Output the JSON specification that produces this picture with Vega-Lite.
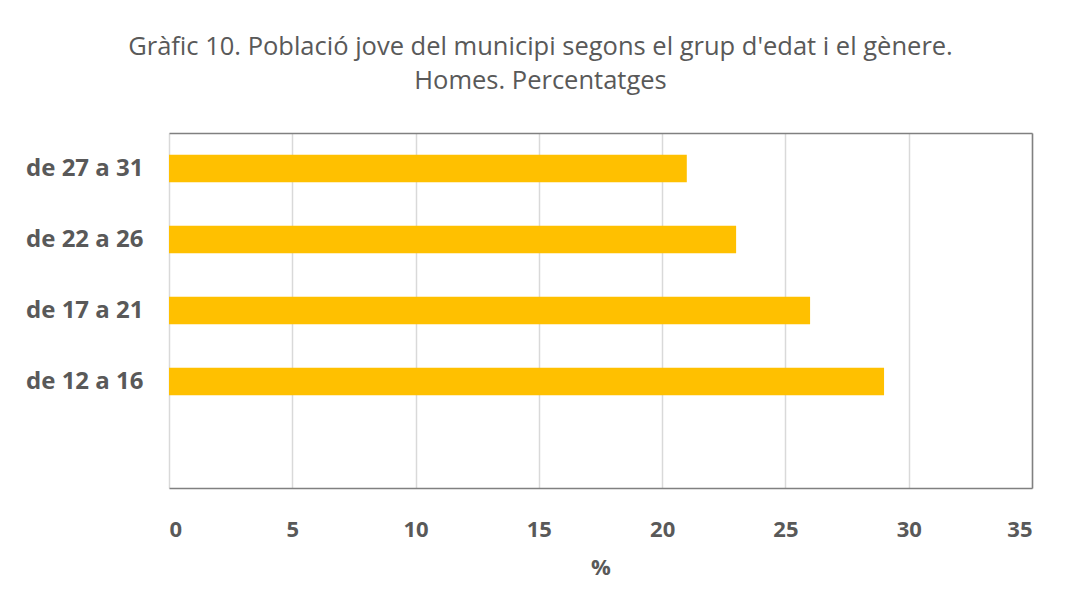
{
  "$schema": "https://vega.github.io/schema/vega-lite/v6.json",
  "width": 863,
  "height": 355,
  "autosize": "none",
  "padding": {"left": 169, "top": 133, "right": 36, "bottom": 121},
  "background": "white",
  "title": {
    "text": ["Gràfic 10. Població jove del municipi segons el grup d'edat i el gènere.", "Homes. Percentatges"],
    "anchor": "middle",
    "frame": "group",
    "dx": -60,
    "baseline": "bottom",
    "offset": 14,
    "lineHeight": 34,
    "font": "Open Sans",
    "fontSize": 25.5,
    "fontWeight": "normal",
    "color": "#595959"
  },
  "data": {
    "values": [
      {"grup": "de 27 a 31", "pct": 21},
      {"grup": "de 22 a 26", "pct": 23},
      {"grup": "de 17 a 21", "pct": 26},
      {"grup": "de 12 a 16", "pct": 29}
    ]
  },
  "encoding": {
    "y": {
      "field": "grup",
      "type": "nominal",
      "sort": null,
      "scale": {
        "domain": ["de 27 a 31", "de 22 a 26", "de 17 a 21", "de 12 a 16", ""],
        "paddingInner": 0.61,
        "paddingOuter": 0.305
      }
    },
    "x": {
      "field": "pct",
      "type": "quantitative",
      "scale": {"domain": [0, 35], "nice": false}
    }
  },
  "layer": [
    {
      "mark": {"type": "bar", "color": "#FFC000"},
      "encoding": {
        "y": {
          "field": "grup",
          "type": "nominal",
          "sort": null,
          "axis": {
            "title": null,
            "domain": false,
            "ticks": false,
            "grid": false,
            "labelPadding": 26,
            "labelFont": "Open Sans",
            "labelFontSize": 24,
            "labelFontWeight": "bold",
            "labelColor": "#595959"
          }
        },
        "x": {
          "field": "pct",
          "type": "quantitative",
          "axis": {
            "title": "%",
            "values": [0, 5, 10, 15, 20, 25, 30, 35],
            "ticks": false,
            "domain": true,
            "domainColor": "#808080",
            "domainWidth": 1.5,
            "grid": true,
            "gridColor": "#d9d9d9",
            "gridWidth": 1.5,
            "labelPadding": 31,
            "labelFont": "Open Sans",
            "labelFontSize": 22,
            "labelFontWeight": "bold",
            "labelColor": "#595959",
            "titleFont": "Open Sans",
            "titleFontSize": 22,
            "titleFontWeight": "bold",
            "titleColor": "#595959",
            "titlePadding": 17
          }
        }
      }
    },
    {
      "mark": {"type": "bar", "opacity": 0},
      "encoding": {
        "y": {
          "field": "grup",
          "type": "nominal",
          "sort": null,
          "axis": {
            "orient": "right",
            "title": null,
            "labels": false,
            "ticks": false,
            "grid": false,
            "domain": true,
            "domainColor": "#808080",
            "domainWidth": 1.5
          }
        },
        "x": {
          "field": "pct",
          "type": "quantitative",
          "axis": {
            "orient": "top",
            "title": null,
            "labels": false,
            "ticks": false,
            "grid": false,
            "domain": true,
            "domainColor": "#808080",
            "domainWidth": 1.5
          }
        }
      }
    }
  ],
  "resolve": {"axis": {"x": "independent", "y": "independent"}},
  "config": {
    "view": {"stroke": null}
  }
}
